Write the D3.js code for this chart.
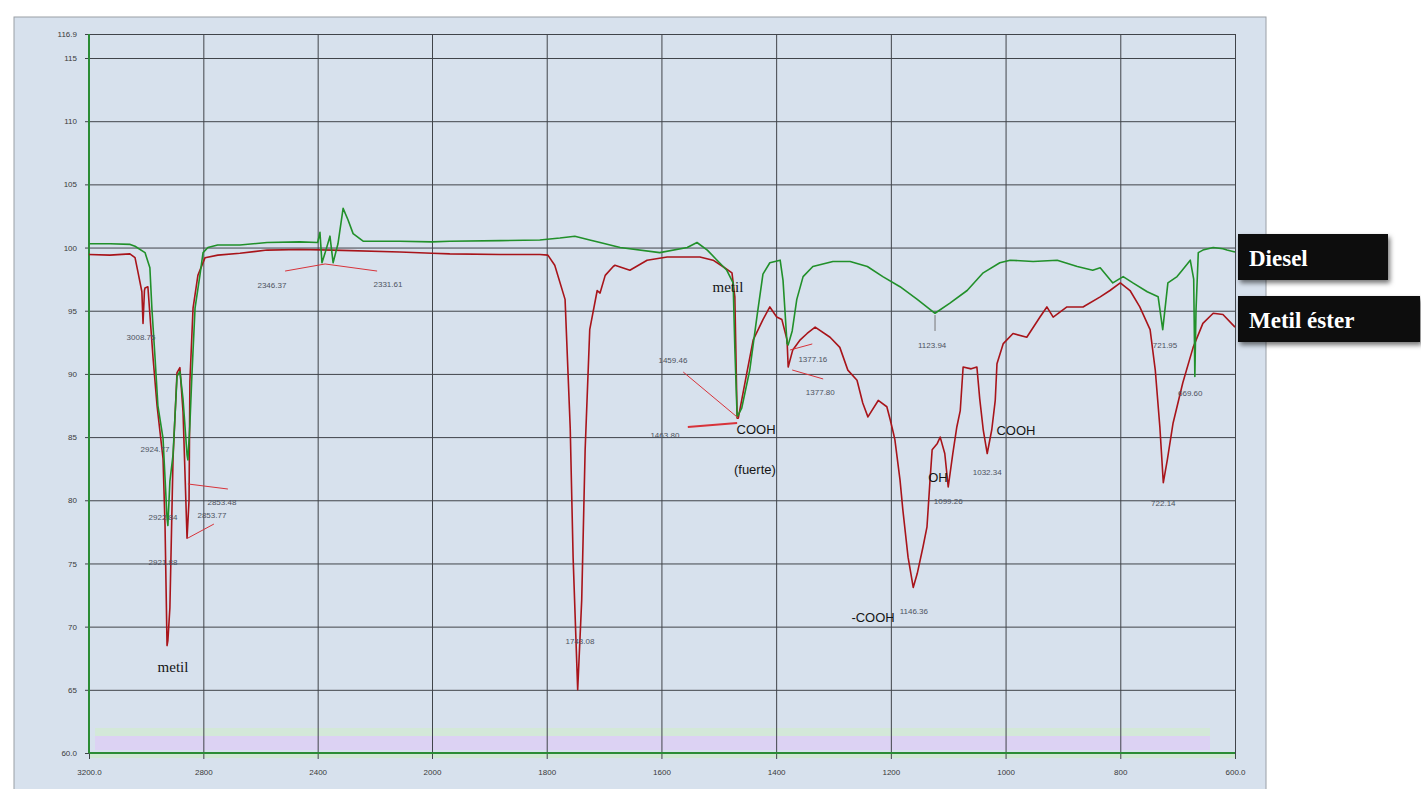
<!DOCTYPE html>
<html>
<head>
<meta charset="utf-8">
<script src="https://cdn.jsdelivr.net/npm/d3@7"></script>
<style>
  body { margin: 0; background: #fff; }
  svg { display: block; }
</style>
</head>
<body>
<svg id="chart" width="1421" height="789"></svg>
<script>
// axis ticks
const xTicks = [3200, 2800, 2400, 2000, 1800, 1600, 1400, 1200, 1000, 800, 600];
const xTickLabels = ["3200.0", "2800", "2400", "2000", "1800", "1600", "1400", "1200", "1000", "800", "600.0"];
const yTicks = [116.9, 115, 110, 105, 100, 95, 90, 85, 80, 75, 70, 65, 60];
const yTickLabels = ["116.9", "115", "110", "105", "100", "95", "90", "85", "80", "75", "70", "65", "60.0"];

// Diesel spectrum (cm-1, %T)
const dieselWn = [3200, 3126, 3056, 3039, 3004, 2987, 2980, 2969, 2959, 2941, 2927, 2924, 2917, 2906, 2892, 2882,
  2871, 2857, 2854, 2847, 2840, 2829, 2812, 2801, 2784, 2750, 2672, 2577, 2462, 2400, 2392, 2385, 2375, 2357,
  2346, 2329, 2311, 2294, 2276, 2241, 2112, 2000, 1969, 1881, 1812, 1777, 1751, 1725, 1707, 1672, 1603, 1555,
  1538, 1520, 1503, 1486, 1475, 1472, 1468, 1460, 1446, 1433, 1423, 1411, 1393, 1388, 1381, 1379, 1372, 1364,
  1353, 1336, 1301, 1271, 1241, 1214, 1184, 1154, 1123, 1097, 1067, 1039, 1010, 992, 952, 910, 875, 848, 835,
  813, 795, 778, 753, 734, 726, 717, 701, 692, 678, 672, 670, 668, 664, 656, 638, 621, 614, 600];
const dieselT = [100.3, 100.3, 100.25, 100.1, 99.6, 98.4, 95.2, 91.3, 87.5, 84.9, 78.6, 78.0, 81.5, 83.6, 89.8, 90.2,
  88.0, 83.6, 83.2, 86.0, 89.9, 95.2, 97.8, 99.6, 100.0, 100.2, 100.2, 100.4, 100.45, 100.4, 101.2, 98.8, 99.5, 100.9,
  98.8, 100.3, 103.1, 102.2, 101.1, 100.5, 100.5, 100.45, 100.5, 100.55, 100.6, 100.75, 100.9, 100.6, 100.4, 100.0, 99.6, 100.0,
  100.4, 99.8, 99.0, 98.2, 97.2, 92.0, 86.6, 87.3, 90.3, 94.7, 97.9, 98.8, 99.0, 97.4, 92.4, 92.3, 93.4, 95.9,
  97.7, 98.5, 98.9, 98.9, 98.5, 97.7, 96.9, 95.9, 94.8, 95.6, 96.6, 98.0, 98.8, 99.0, 98.9, 99.0, 98.5, 98.2, 98.4,
  97.2, 97.7, 97.2, 96.5, 96.1, 93.5, 97.2, 97.7, 98.2, 99.0, 97.5, 89.8, 95.0, 99.6, 99.8, 100.0, 99.9, 99.8, 99.65];

// Metil éster spectrum (cm-1, %T)
const esterWn = [3200, 3127, 3057, 3039, 3029, 3015, 3011, 3006, 3004, 2994, 2976, 2962, 2941, 2934, 2927, 2924,
  2917, 2906, 2892, 2882, 2871, 2857, 2850, 2847, 2836, 2819, 2794, 2749, 2672, 2577, 2462, 2347, 2112, 2000,
  1969, 1881, 1812, 1798, 1786, 1768, 1759, 1754, 1746, 1739, 1733, 1725, 1712, 1707, 1698, 1684, 1681, 1655,
  1625, 1590, 1550, 1533, 1510, 1493, 1477, 1472, 1468, 1466, 1451, 1440, 1423, 1411, 1399, 1390, 1381, 1379,
  1371, 1358, 1346, 1332, 1306, 1289, 1275, 1259, 1249, 1240, 1222, 1207, 1201, 1196, 1193, 1184, 1179, 1170,
  1161, 1154, 1144, 1137, 1132, 1128, 1119, 1114, 1106, 1100, 1092, 1085, 1079, 1074, 1060, 1050, 1045, 1039,
  1032, 1024, 1018, 1015, 1004, 987, 963, 940, 928, 917, 893, 865, 835, 818, 800, 783, 766, 748, 739, 731, 725,
  718, 708, 691, 673, 656, 638, 621, 600];
const esterT = [99.45, 99.4, 99.5, 99.2, 98.1, 96.5, 94.0, 96.6, 96.8, 96.9, 91.3, 87.5, 83.3, 78.0, 68.5, 68.9,
  71.5, 83.3, 90.1, 90.5, 87.0, 77.0, 80.0, 89.4, 95.2, 97.8, 99.2, 99.4, 99.55, 99.8, 99.85, 99.8, 99.65, 99.55,
  99.5, 99.45, 99.45, 99.4, 98.6, 95.9, 85.7, 75.5, 65.0, 72.1, 84.0, 93.5, 96.6, 96.4, 97.8, 98.5, 98.6, 98.2,
  99.0, 99.25, 99.25, 99.25, 99.0, 98.5, 98.0, 96.1, 86.5, 86.5, 90.1, 92.7, 94.3, 95.3, 94.5, 94.3, 92.7, 90.55,
  91.9, 92.7, 93.2, 93.7, 92.9, 92.1, 90.3, 89.5, 87.7, 86.6, 87.9, 87.4, 86.35, 85.4, 84.8, 81.6, 79.2, 75.5,
  73.1, 74.2, 76.3, 77.9, 81.4, 84.0, 84.5, 85.0, 83.7, 81.05, 83.7, 85.8, 87.1, 90.55, 90.4, 90.55, 88.0, 85.6,
  83.7, 85.6, 87.9, 90.8, 92.4, 93.2, 92.9, 94.5, 95.3, 94.5, 95.3, 95.3, 96.1, 96.6, 97.2, 96.6, 95.3, 93.5, 90.3, 85.8, 81.4,
  83.2, 86.1, 89.3, 92.1, 94.0, 94.8, 94.7, 93.7];

// peak labels (small grey numbers)
const peakText = ["3008.75", "2346.37", "2331.61", "2924.77", "2922.84", "2921.88", "2853.48", "2853.77", "1743.08",
  "1459.46", "1463.80", "1377.16", "1377.80", "1123.94", "1099.26", "1032.34", "1146.36", "721.95", "669.60", "722.14"];
const peakWn = [3018, 2560, 2154, 2969, 2941, 2941, 2735, 2770, 1742, 1580, 1594, 1336, 1323, 1128, 1100, 1032, 1160, 722, 678, 725];
const peakT = [92.9, 97.0, 97.1, 84.06, 78.68, 75.1, 79.86, 78.84, 68.86, 91.1, 85.16, 91.18, 88.57, 92.29, 79.94, 82.24, 71.24, 92.29, 88.49, 79.78];

// leader lines: [wn, T] start and end
const leaderFrom = [[2514, 98.14], [2374, 98.7], [2854, 81.29], [2854, 77.01], [1562, 90.15], [1554, 85.8], [1376, 91.89], [1372, 90.31], [1123, 94.66]];
const leaderTo = [[2374, 98.7], [2192, 98.14], [2714, 80.89], [2763, 78.12], [1466, 86.51], [1468, 86.11], [1337, 92.37], [1318, 89.6], [1123, 93.4]];

// black group labels
const groupText = ["metil", "metil", "COOH", "(fuerte)", "OH", "COOH", "-COOH"];
const groupWn = [2906, 1484, 1435, 1437, 1118, 982, 1231];
const groupT = [66.8, 96.88, 85.64, 82.4, 81.84, 85.56, 70.76];

const legendNames = ["Diesel", "Metil éster"];

const svg = d3.select("#chart");
const plotLeft = 89, plotTop = 34, plotRight = 1235, plotBottom = 753;

const x = d3.scaleLinear().domain([3200, 2000, 600]).range([plotLeft, 432, plotRight]);
const y = d3.scaleLinear().domain([60, 116.9]).range([plotBottom, plotTop]);

// panel
svg.append("rect")
  .attr("x", 14).attr("y", 17).attr("width", 1252).attr("height", 780)
  .style("fill", "#d7e1ed").style("stroke", "#9a9fa6").style("stroke-width", 1);

// faint bands near the bottom axis
svg.append("rect").attr("x", plotLeft + 6).attr("y", 728).attr("width", 1115).attr("height", 8).style("fill", "#d3e8d8");
svg.append("rect").attr("x", plotLeft + 6).attr("y", 736).attr("width", 1115).attr("height", 14).style("fill", "#dcd2f3");
svg.append("rect").attr("x", plotLeft).attr("y", plotBottom).attr("width", plotRight - plotLeft).attr("height", 5).style("fill", "#cfe8d3");

// grid
svg.append("g")
  .attr("transform", "translate(0," + plotBottom + ")")
  .call(d3.axisBottom(x).tickValues(xTicks).tickSize(-(plotBottom - plotTop)).tickFormat(""))
  .call(g => g.select(".domain").remove())
  .selectAll("line").style("stroke", "#40444a").style("stroke-width", 1);

svg.append("g")
  .attr("transform", "translate(" + plotLeft + ",0)")
  .call(d3.axisLeft(y).tickValues(yTicks).tickSize(-(plotRight - plotLeft)).tickFormat(""))
  .call(g => g.select(".domain").remove())
  .selectAll("line").style("stroke", "#40444a").style("stroke-width", 1);

// tick labels
let xAxis = svg.append("g")
  .attr("transform", "translate(0," + plotBottom + ")")
  .call(d3.axisBottom(x).tickValues(xTicks).tickSize(6).tickPadding(10)
    .tickFormat((d, i) => xTickLabels[i]));
xAxis.select(".domain").remove();
xAxis.selectAll("line").style("stroke", "#40444a");
xAxis.selectAll("text").style("font-family", "Arial, Liberation Sans").style("font-size", "8px").style("fill", "#3a3a3a");

let yAxis = svg.append("g")
  .attr("transform", "translate(" + plotLeft + ",0)")
  .call(d3.axisLeft(y).tickValues(yTicks).tickSize(4).tickPadding(8)
    .tickFormat((d, i) => yTickLabels[i]));
yAxis.select(".domain").remove();
yAxis.selectAll("line").style("stroke", "#40444a");
yAxis.selectAll("text").style("font-family", "Arial, Liberation Sans").style("font-size", "8px").style("fill", "#3a3a3a");

// green axes
svg.append("line").attr("x1", plotLeft).attr("x2", plotLeft).attr("y1", plotTop).attr("y2", plotBottom)
  .style("stroke", "#2a8c35").style("stroke-width", 2);
svg.append("line").attr("x1", plotLeft).attr("x2", plotRight).attr("y1", plotBottom).attr("y2", plotBottom)
  .style("stroke", "#2a8c35").style("stroke-width", 2);

// spectra
let line = d3.line().x(d => x(d[0])).y(d => y(d[1]));

svg.append("path")
  .datum(d3.zip(esterWn, esterT))
  .attr("d", line)
  .style("fill", "none").style("stroke", "#a8141a").style("stroke-width", 1.6)
  .style("stroke-linejoin", "round");

svg.append("path")
  .datum(d3.zip(dieselWn, dieselT))
  .attr("d", line)
  .style("fill", "none").style("stroke", "#21902a").style("stroke-width", 1.6)
  .style("stroke-linejoin", "round");

// leader lines
svg.selectAll(".leader")
  .data(d3.zip(leaderFrom, leaderTo))
  .enter()
  .append("line")
  .attr("x1", d => x(d[0][0])).attr("y1", d => y(d[0][1]))
  .attr("x2", d => x(d[1][0])).attr("y2", d => y(d[1][1]))
  .style("stroke", (d, i) => i === 8 ? "#777" : "#d8333a")
  .style("stroke-width", (d, i) => i === 5 ? 2 : 1);

// peak labels
svg.selectAll(".peak")
  .data(peakText)
  .enter()
  .append("text")
  .attr("x", (d, i) => x(peakWn[i]))
  .attr("y", (d, i) => y(peakT[i]))
  .attr("dy", "0.35em")
  .text(d => d)
  .style("font-family", "Arial, Liberation Sans")
  .style("font-size", "8px")
  .style("text-anchor", "middle")
  .style("fill", "#4d5260");

// group labels
svg.selectAll(".group")
  .data(groupText)
  .enter()
  .append("text")
  .attr("x", (d, i) => x(groupWn[i]))
  .attr("y", (d, i) => y(groupT[i]))
  .attr("dy", "0.35em")
  .text(d => d)
  .style("font-family", d => d === "metil" ? "Liberation Serif, serif" : "Arial, Liberation Sans")
  .style("font-size", d => d === "metil" ? "15px" : "13px")
  .style("text-anchor", "middle")
  .style("fill", "#151515");

// legend boxes
let defs = svg.append("defs");
let f = defs.append("filter").attr("id", "shadow").attr("x", "-10%").attr("y", "-20%").attr("width", "130%").attr("height", "160%");
f.append("feDropShadow").attr("dx", 2).attr("dy", 3).attr("stdDeviation", 2.5)
  .attr("flood-color", "#000").attr("flood-opacity", 0.55);

let legendY = [234, 296];
let legendW = [150, 182];
legendNames.forEach(function(name, i) {
  svg.append("rect")
    .attr("x", 1238).attr("y", legendY[i])
    .attr("width", legendW[i]).attr("height", 46)
    .style("fill", "#0d0d0d")
    .attr("filter", "url(#shadow)");
  svg.append("text")
    .attr("x", 1249).attr("y", legendY[i] + 32)
    .text(name)
    .style("font-family", "Liberation Serif, DejaVu Serif, serif")
    .style("font-weight", "bold")
    .style("font-size", "23px")
    .style("fill", "#fff");
});
</script>
</body>
</html>
